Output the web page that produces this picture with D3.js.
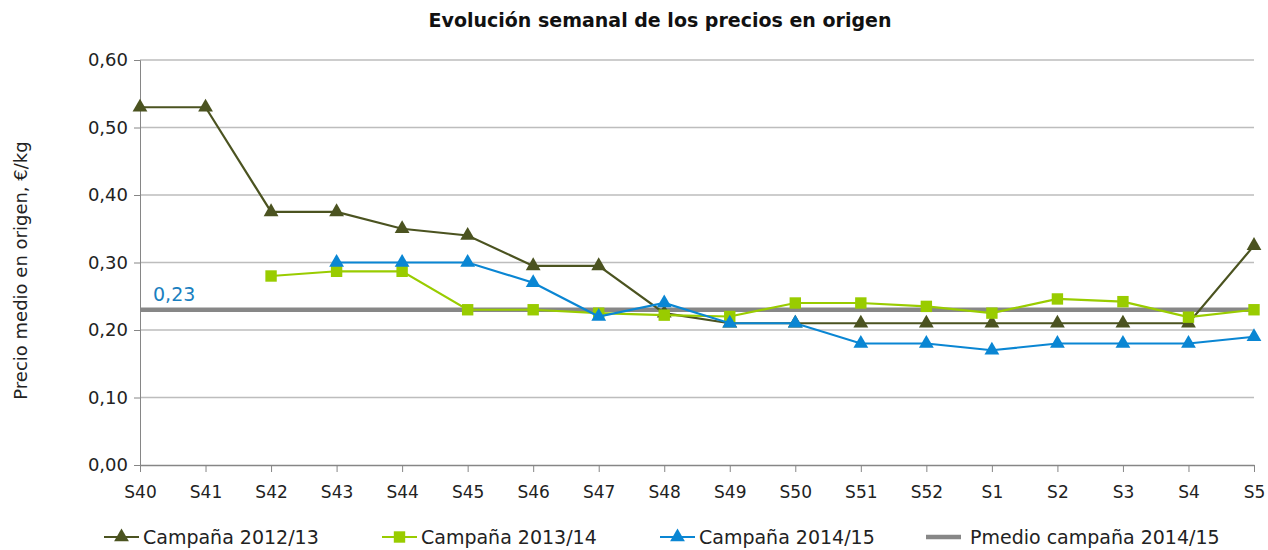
<!DOCTYPE html>
<html>
<head>
<meta charset="utf-8">
<script src="https://cdn.jsdelivr.net/npm/d3@7"></script>
<style>
  body { margin: 0; background: #fff; }
  svg text { font-family: "DejaVu Sans", sans-serif; }
</style>
</head>
<body>
<div id="chart"></div>
<script>
// Weeks of the campaign
const weeks = ['S40', 'S41', 'S42', 'S43', 'S44', 'S45', 'S46', 'S47', 'S48',
               'S49', 'S50', 'S51', 'S52', 'S1', 'S2', 'S3', 'S4', 'S5'];

// Prices, €/kg (null = no data)
const camp1213 = [0.53, 0.53, 0.375, 0.375, 0.35, 0.34, 0.295, 0.295, 0.225,
                  0.21, 0.21, 0.21, 0.21, 0.21, 0.21, 0.21, 0.21, 0.325];
const camp1314 = [null, null, 0.28, 0.287, 0.287, 0.23, 0.23, 0.225, 0.222,
                  0.22, 0.24, 0.24, 0.235, 0.225, 0.246, 0.242, 0.219, 0.23];
const camp1415 = [null, null, null, 0.30, 0.30, 0.30, 0.27, 0.22, 0.24,
                  0.21, 0.21, 0.18, 0.18, 0.17, 0.18, 0.18, 0.18, 0.19];
const avg1415 = 0.23;

const yTicks = [0, 0.1, 0.2, 0.3, 0.4, 0.5, 0.6];

const series = [
  { name: 'Campaña 2012/13', values: camp1213, color: '#4b5320', symbol: d3.symbolTriangle },
  { name: 'Campaña 2013/14', values: camp1314, color: '#99cc00', symbol: d3.symbolSquare },
  { name: 'Campaña 2014/15', values: camp1415, color: '#0a86d3', symbol: d3.symbolTriangle }
];

const width = 1268, height = 550;
const margin = { top: 60, right: 14, bottom: 85, left: 140 };

const svg = d3.select('#chart')
              .append('svg')
              .attr('width', width)
              .attr('height', height);

const x = d3.scalePoint()
            .domain(weeks)
            .range([margin.left, width - margin.right]);

const y = d3.scaleLinear()
            .domain([0, 0.6])
            .range([height - margin.bottom, margin.top]);

const fmt = d => d3.format('.2f')(d).replace('.', ',');

// Gridlines
svg.append('g')
    .selectAll('line')
    .data(yTicks.slice(1))
    .join('line')
        .attr('x1', margin.left)
        .attr('x2', width - margin.right)
        .attr('y1', d => y(d))
        .attr('y2', d => y(d))
        .attr('stroke', '#bdbdbd')
        .attr('stroke-width', 1.5);

// Y axis
const yAxis = svg.append('g')
    .attr('transform', `translate(${margin.left},0)`)
    .call(d3.axisLeft(y).tickValues(yTicks).tickFormat(fmt).tickSize(6).tickPadding(6));
yAxis.select('.domain').attr('stroke', '#868686');
yAxis.selectAll('.tick line').attr('stroke', '#868686');
yAxis.selectAll('text').attr('font-size', 18).attr('fill', '#222');

// X axis
const xAxis = svg.append('g')
    .attr('transform', `translate(0,${y(0)})`)
    .call(d3.axisBottom(x).tickSize(7).tickPadding(14).tickSizeOuter(0));
xAxis.select('.domain').attr('stroke', '#868686').attr('stroke-width', 1.5);
xAxis.selectAll('.tick line').attr('stroke', '#868686');
xAxis.selectAll('text').attr('font-size', 17).attr('fill', '#222');

// Average line
svg.append('line')
    .attr('x1', margin.left)
    .attr('x2', width - margin.right)
    .attr('y1', y(avg1415))
    .attr('y2', y(avg1415))
    .attr('stroke', '#878787')
    .attr('stroke-width', 4.5);

svg.append('text')
    .attr('x', margin.left + 13)
    .attr('y', y(avg1415) - 9)
    .attr('font-size', 19)
    .attr('fill', '#1a7fc0')
    .text(fmt(avg1415));

// Series lines and markers
const line = d3.line()
               .defined(d => d != null)
               .x((d, i) => x(weeks[i]))
               .y(d => y(d));

series.forEach(s => {
    svg.append('path')
        .datum(s.values)
        .attr('fill', 'none')
        .attr('stroke', s.color)
        .attr('stroke-width', 2.2)
        .attr('d', line);

    svg.append('g')
        .selectAll('path')
        .data(s.values.map((v, i) => ({ v, i })).filter(d => d.v != null))
        .join('path')
            .attr('transform', d => `translate(${x(weeks[d.i])},${y(d.v)})`)
            .attr('d', d3.symbol().type(s.symbol).size(s.symbol === d3.symbolSquare ? 130 : 95))
            .attr('fill', s.color);
});

// Title
svg.append('text')
    .attr('x', 660)
    .attr('y', 27)
    .attr('text-anchor', 'middle')
    .attr('font-size', 19)
    .attr('font-weight', 'bold')
    .attr('fill', '#111')
    .text('Evolución semanal de los precios en origen');

// Y axis title
svg.append('text')
    .attr('transform', `translate(27,${(margin.top + y(0)) / 2 + 8}) rotate(-90)`)
    .attr('text-anchor', 'middle')
    .attr('font-size', 18)
    .attr('fill', '#222')
    .text('Precio medio en origen, €/kg');

// Legend
const legendItems = [
    { name: series[0].name, color: series[0].color, symbol: series[0].symbol, x: 104 },
    { name: series[1].name, color: series[1].color, symbol: series[1].symbol, x: 382 },
    { name: series[2].name, color: series[2].color, symbol: series[2].symbol, x: 660 },
    { name: 'Pmedio campaña 2014/15', color: '#878787', symbol: null, x: 926 }
];

const legend = svg.append('g')
    .selectAll('g')
    .data(legendItems)
    .join('g')
        .attr('transform', d => `translate(${d.x},537)`);

legend.append('line')
    .attr('x1', 0)
    .attr('x2', 35)
    .attr('stroke', d => d.color)
    .attr('stroke-width', d => d.symbol ? 2.2 : 4.5);

legend.filter(d => d.symbol)
    .append('path')
    .attr('transform', 'translate(17.5,0)')
    .attr('d', d => d3.symbol().type(d.symbol).size(d.symbol === d3.symbolSquare ? 130 : 95)())
    .attr('fill', d => d.color);

legend.append('text')
    .attr('x', d => d.symbol ? 39 : 44)
    .attr('y', 7)
    .attr('font-size', 19)
    .attr('fill', '#222')
    .text(d => d.name);
</script>
</body>
</html>
